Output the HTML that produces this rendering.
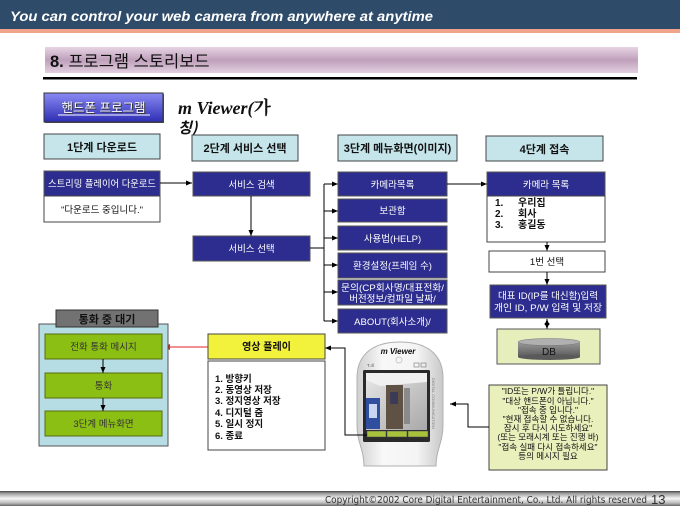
<!DOCTYPE html>
<html><head><meta charset="utf-8">
<style>
html,body{margin:0;padding:0;background:#fff;width:680px;height:510px;overflow:hidden}
svg{display:block}
.k{font-family:"Liberation Sans","Noto Sans CJK KR",sans-serif}
</style></head>
<body>
<svg width="680" height="510" viewBox="0 0 680 510" xmlns="http://www.w3.org/2000/svg" class="k">
<defs>
 <linearGradient id="tb" x1="0" y1="0" x2="0" y2="1">
  <stop offset="0" stop-color="#e6d4e4"/><stop offset="0.5" stop-color="#bfa0bb"/><stop offset="1" stop-color="#e2cfe0"/>
 </linearGradient>
 <linearGradient id="hp" x1="0" y1="0" x2="0" y2="1">
  <stop offset="0" stop-color="#8a8af4"/><stop offset="1" stop-color="#2e2eb4"/>
 </linearGradient>
 <linearGradient id="ft" x1="0" y1="0" x2="0" y2="1">
  <stop offset="0" stop-color="#444"/><stop offset="0.15" stop-color="#999"/><stop offset="0.5" stop-color="#f6f6f6"/><stop offset="0.8" stop-color="#bbb"/><stop offset="1" stop-color="#666"/>
 </linearGradient>
 <linearGradient id="cyl" x1="0" y1="0" x2="0" y2="1">
  <stop offset="0" stop-color="#9a9a9a"/><stop offset="1" stop-color="#5a5a5a"/>
 </linearGradient>
 <linearGradient id="ph" x1="0" y1="0" x2="1" y2="0">
  <stop offset="0" stop-color="#cfcfcf"/><stop offset="0.3" stop-color="#f8f8f8"/><stop offset="0.7" stop-color="#f4f4f4"/><stop offset="1" stop-color="#c8c8c8"/>
 </linearGradient>
 <linearGradient id="wall" x1="0" y1="0" x2="1" y2="1">
  <stop offset="0" stop-color="#e8e8e8"/><stop offset="1" stop-color="#a8a8a8"/>
 </linearGradient>
 <marker id="a" markerWidth="6" markerHeight="6" refX="6" refY="3" orient="auto" markerUnits="userSpaceOnUse"><path d="M0,0.5 L6,3 L0,5.5 z" fill="#000"/></marker>
 <marker id="as" markerWidth="6" markerHeight="6" refX="0" refY="3" orient="auto" markerUnits="userSpaceOnUse"><path d="M6,0.5 L0,3 L6,5.5 z" fill="#000"/></marker>
 <marker id="ar" markerWidth="7" markerHeight="7" refX="7" refY="3.5" orient="auto" markerUnits="userSpaceOnUse"><path d="M0,0.5 L7,3.5 L0,6.5 z" fill="#e02020"/></marker>
</defs>

<!-- header -->
<rect x="0" y="0" width="680" height="29" fill="#2e4b6a"/>
<rect x="0" y="29" width="680" height="4" fill="#f0a48c"/>
<text x="10" y="21" fill="#fff" font-family="Liberation Sans" font-weight="bold" font-style="italic" font-size="13.5" textLength="423" lengthAdjust="spacingAndGlyphs">You can control your web camera  from anywhere at anytime</text>

<!-- title bar -->
<rect x="45" y="47" width="593" height="26" fill="url(#tb)"/>
<rect x="43" y="77" width="594" height="2.5" fill="#000"/>
<text x="50" y="67" font-size="16.5" fill="#111"><tspan font-weight="bold">8.</tspan> 프로그램 스토리보드</text>

<!-- handphone program -->
<rect x="45" y="94" width="119" height="29" fill="#555"/>
<rect x="44" y="93" width="119" height="29" fill="url(#hp)" stroke="#333" stroke-width="1"/>
<text x="104.5" y="113" font-size="12.5" text-anchor="middle" fill="#333">핸드폰 프로그램</text>
<text x="103.5" y="112" font-size="12.5" text-anchor="middle" fill="#fff">핸드폰 프로그램</text>
<line x1="58" y1="115" x2="150" y2="115" stroke="#fff" stroke-width="1"/>

<text x="178" y="114" font-family="Liberation Serif" font-weight="bold" font-style="italic" font-size="18" fill="#111">m Viewer(<tspan font-family="Noto Serif CJK SC, Noto Sans CJK KR, serif" font-style="normal">가</tspan></text>
<text x="178" y="133" font-family="Noto Sans CJK KR, sans-serif" font-weight="bold" font-size="15" fill="#111" font-style="italic">칭)</text>

<!-- stage headers -->
<g font-size="11" font-weight="bold" fill="#111" text-anchor="middle">
 <rect x="44" y="134" width="116" height="25" fill="#c6e5ea" stroke="#444"/>
 <text x="102" y="151">1단계 다운로드</text>
 <rect x="192" y="135" width="106" height="26" fill="#c6e5ea" stroke="#444"/>
 <text x="245" y="152">2단계 서비스 선택</text>
 <rect x="338" y="135" width="119" height="26" fill="#c6e5ea" stroke="#444"/>
 <text x="397.5" y="152">3단계 메뉴화면(이미지)</text>
 <rect x="486" y="136" width="117" height="25" fill="#c6e5ea" stroke="#444"/>
 <text x="544.5" y="153">4단계 접속</text>
</g>

<!-- stage 1 -->
<g font-size="9.5" text-anchor="middle">
 <rect x="44" y="171" width="116" height="25" fill="#2d2d8f" stroke="#555"/>
 <text x="102" y="187" fill="#fff" textLength="108" lengthAdjust="spacingAndGlyphs">스트리밍 플레이어 다운로드</text>
 <rect x="44" y="196" width="116" height="26" fill="#fff" stroke="#444"/>
 <text x="102" y="213" fill="#111">"다운로드 중입니다."</text>
</g>
<line x1="160" y1="183" x2="192" y2="183" stroke="#000" marker-end="url(#a)"/>

<!-- stage 2 -->
<g font-size="9.5" text-anchor="middle" fill="#fff">
 <rect x="193" y="172" width="117" height="24" fill="#2d2d8f" stroke="#555"/>
 <text x="251.5" y="188">서비스 검색</text>
 <rect x="193" y="236" width="117" height="25" fill="#2d2d8f" stroke="#555"/>
 <text x="251.5" y="252">서비스 선택</text>
</g>
<line x1="251" y1="196" x2="251" y2="236" stroke="#000" marker-end="url(#a)"/>
<g stroke="#000" fill="none">
 <polyline points="310,248 324,248"/>
 <line x1="324" y1="184" x2="324" y2="321"/>
 <line x1="324" y1="184" x2="338" y2="184" marker-end="url(#a)"/>
 <line x1="324" y1="211" x2="338" y2="211" marker-end="url(#a)"/>
 <line x1="324" y1="238" x2="338" y2="238" marker-end="url(#a)"/>
 <line x1="324" y1="265" x2="338" y2="265" marker-end="url(#a)"/>
 <line x1="324" y1="292" x2="338" y2="292" marker-end="url(#a)"/>
 <line x1="324" y1="321" x2="338" y2="321" marker-end="url(#a)"/>
</g>

<!-- stage 3 menu -->
<g font-size="9.5" text-anchor="middle" fill="#fff">
 <rect x="338" y="172" width="109" height="24" fill="#2d2d8f" stroke="#555"/>
 <text x="392.5" y="188">카메라목록</text>
 <rect x="338" y="199" width="109" height="23" fill="#2d2d8f" stroke="#555"/>
 <text x="392.5" y="214">보관함</text>
 <rect x="338" y="226" width="109" height="24" fill="#2d2d8f" stroke="#555"/>
 <text x="392.5" y="242">사용법(HELP)</text>
 <rect x="338" y="253" width="109" height="25" fill="#2d2d8f" stroke="#555"/>
 <text x="392.5" y="269">환경설정(프레임 수)</text>
 <rect x="338" y="280" width="109" height="25" fill="#2d2d8f" stroke="#555"/>
 <text x="392.5" y="291" textLength="103" lengthAdjust="spacingAndGlyphs">문의(CP회사명/대표전화/</text>
 <text x="392.5" y="302">버전정보/컴파일 날짜/</text>
 <rect x="338" y="309" width="109" height="24" fill="#2d2d8f" stroke="#555"/>
 <text x="392.5" y="325">ABOUT(회사소개)/</text>
</g>
<line x1="447" y1="184" x2="487" y2="184" stroke="#000" marker-end="url(#a)"/>

<!-- stage 4 -->
<rect x="487" y="172" width="118" height="24" fill="#2d2d8f" stroke="#555"/>
<text x="546" y="188" font-size="9.5" text-anchor="middle" fill="#fff">카메라 목록</text>
<rect x="487" y="196" width="118" height="46" fill="#fff" stroke="#444"/>
<g font-size="10" font-weight="bold" fill="#111">
 <text x="495" y="206">1.</text><text x="518" y="206">우리집</text>
 <text x="495" y="217">2.</text><text x="518" y="217">회사</text>
 <text x="495" y="228">3.</text><text x="518" y="228">홍길동</text>
</g>
<line x1="547" y1="242" x2="547" y2="251" stroke="#000" marker-end="url(#a)"/>
<rect x="489" y="251" width="116" height="21" fill="#fff" stroke="#444"/>
<text x="547" y="265" font-size="9.5" text-anchor="middle" fill="#111">1번 선택</text>
<line x1="547" y1="272" x2="547" y2="285" stroke="#000" marker-end="url(#a)"/>
<rect x="490" y="285" width="116" height="33" fill="#2d2d8f" stroke="#555"/>
<text x="548" y="299" font-size="9.5" text-anchor="middle" fill="#fff">대표 ID(IP를 대신함)입력</text>
<text x="548" y="311" font-size="9.5" text-anchor="middle" fill="#fff" textLength="108" lengthAdjust="spacingAndGlyphs">개인 ID, P/W 입력 및 저장</text>
<line x1="547" y1="319" x2="547" y2="329" stroke="#000" marker-end="url(#a)" marker-start="url(#as)"/>

<rect x="497" y="329" width="103" height="35" fill="#e6eebc" stroke="#555"/>
<rect x="518" y="342" width="62" height="15" fill="url(#cyl)"/>
<ellipse cx="549" cy="357" rx="31" ry="3" fill="#5a5a5a"/>
<ellipse cx="549" cy="342" rx="31" ry="3.5" fill="#b0b0b0" stroke="#777" stroke-width="0.5"/>
<text x="549" y="355" font-size="10" text-anchor="middle" fill="#111">DB</text>

<!-- message box -->
<rect x="489" y="385" width="118" height="85" fill="#eaf0bc" stroke="#444"/>
<g font-size="8.5" text-anchor="middle" fill="#111">
 <text x="548" y="394">"ID또는 P/W가 틀립니다."</text>
 <text x="548" y="404">"대상 핸드폰이 아닙니다."</text>
 <text x="548" y="413">"접속 중 입니다."</text>
 <text x="548" y="422">"현재 접속할 수 없습니다.</text>
 <text x="548" y="431">잠시 후 다시 시도하세요"</text>
 <text x="548" y="440">(또는 모래시계 또는 진행 바)</text>
 <text x="548" y="450">"접속 실패 다시 접속하세요"</text>
 <text x="548" y="459">등의 메시지 필요</text>
</g>
<polyline points="489,427 468,427 468,404 450,404" fill="none" stroke="#000" marker-end="url(#a)"/>

<!-- phone -->
<path d="M357,378 C357,352 376,342 400,342 C424,342 443,352 443,378 L443,425 C443,442 436,450 436,466 L364,466 C364,450 357,442 357,425 Z" fill="url(#ph)" stroke="#b0b0b0"/>
<text x="398" y="354" font-family="Liberation Sans" font-weight="bold" font-style="italic" font-size="8" text-anchor="middle" fill="#111">m Viewer</text>
<circle cx="399" cy="360" r="3" fill="none" stroke="#ccc"/>
<text x="367" y="367" font-size="4.5" fill="#555">T.ıll</text>
<rect x="414" y="363" width="5" height="4" fill="none" stroke="#777" stroke-width="0.6"/>
<rect x="421" y="363" width="5" height="4" fill="none" stroke="#777" stroke-width="0.6"/>
<rect x="363" y="370" width="67" height="72" fill="#2a2a2a" rx="1.5"/>
<rect x="366" y="373" width="61" height="57" fill="url(#wall)"/>
<path d="M366,373 L427,373 L427,382 L380,386 L366,380 Z" fill="#f0f0f0"/>
<rect x="366" y="398" width="14" height="31" fill="#2f4ea0"/>
<rect x="369" y="404" width="8" height="14" fill="#c8d4f0"/>
<rect x="386" y="385" width="17" height="44" fill="#5f5244"/>
<rect x="390" y="392" width="8" height="12" fill="#3b3b55"/>
<rect x="404" y="388" width="6" height="36" fill="#8a8a8a"/>
<rect x="367" y="431" width="19" height="6" fill="#a8c23c" stroke="#445" stroke-width="0.5"/>
<rect x="387" y="431" width="20" height="6" fill="#a8c23c" stroke="#445" stroke-width="0.5"/>
<rect x="408" y="431" width="20" height="6" fill="#a8c23c" stroke="#445" stroke-width="0.5"/>
<text x="0" y="0" font-size="4" fill="#777" transform="translate(432,378) rotate(90)">DIGITAL COMMUNICATION</text>

<polyline points="367,435 345,435 345,348 325,348" fill="none" stroke="#000" marker-end="url(#a)"/>

<!-- video play -->
<rect x="208" y="334" width="117" height="25" fill="#f2f23c" stroke="#444"/>
<text x="266.5" y="350" font-size="10" font-weight="bold" text-anchor="middle" fill="#111">영상 플레이</text>
<rect x="208" y="361" width="117" height="89" fill="#fff" stroke="#444"/>
<g font-size="9.5" font-weight="bold" fill="#111">
 <text x="215" y="382">1. 방향키</text>
 <text x="215" y="393">2. 동영상 저장</text>
 <text x="215" y="404">3. 정지영상 저장</text>
 <text x="215" y="416">4. 디지털 줌</text>
 <text x="215" y="427">5. 일시 정지</text>
 <text x="215" y="439">6. 종료</text>
</g>
<line x1="208" y1="347" x2="163" y2="347" stroke="#e02020" marker-end="url(#ar)"/>

<!-- call waiting -->
<rect x="39" y="324" width="129" height="122" fill="#b6dce4" stroke="#555"/>
<rect x="56" y="310" width="102" height="17" fill="#727272" stroke="#333"/>
<text x="107" y="323" font-size="11" font-weight="bold" text-anchor="middle" fill="#111">통화 중 대기</text>
<g font-size="9.5" text-anchor="middle" fill="#333">
 <rect x="45" y="334" width="117" height="25" fill="#8cbf14" stroke="#5a6e10"/>
 <text x="103.5" y="350">전화 통화 메시지</text>
 <rect x="45" y="373" width="117" height="25" fill="#8cbf14" stroke="#5a6e10"/>
 <text x="103.5" y="389">통화</text>
 <rect x="45" y="411" width="117" height="25" fill="#8cbf14" stroke="#5a6e10"/>
 <text x="103.5" y="427">3단계 메뉴화면</text>
</g>
<line x1="103" y1="359" x2="103" y2="373" stroke="#000" marker-end="url(#a)"/>
<line x1="103" y1="398" x2="103" y2="411" stroke="#000" marker-end="url(#a)"/>

<!-- footer -->
<rect x="0" y="491" width="680" height="15" fill="url(#ft)"/>
<text x="325" y="503" font-family="DejaVu Sans" font-size="9.5" fill="#333" textLength="322" lengthAdjust="spacingAndGlyphs">Copyright©2002 Core Digital Entertainment, Co., Ltd. All rights reserved</text>
<text x="651" y="504" font-family="Liberation Sans" font-size="13" fill="#333">13</text>
</svg>
</body></html>
